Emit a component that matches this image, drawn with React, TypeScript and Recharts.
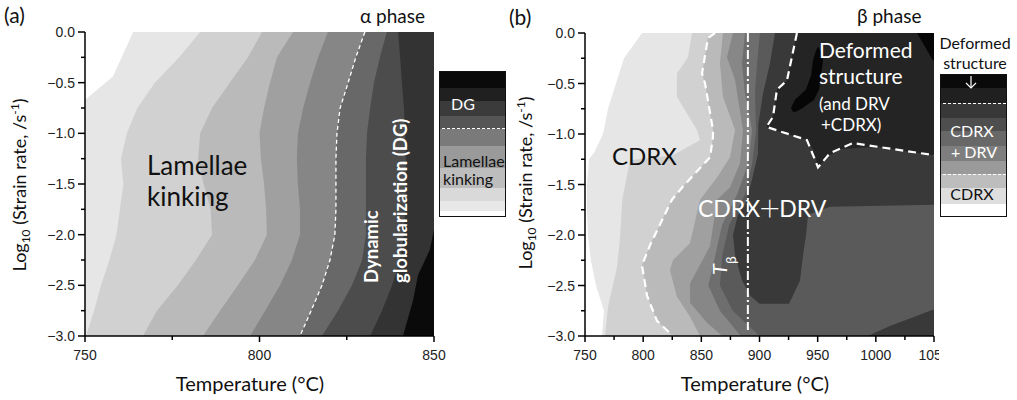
import React from "react";
import { Area, ComposedChart, Line, XAxis, YAxis } from "recharts";

// ---------- panel (a): alpha phase, 750-850 C ----------
const RATES_A = [0, -0.25, -0.5, -0.75, -1, -1.25, -1.5, -1.75, -2, -2.25, -2.5, -2.75, -3];
const A_EDGE_RATES = [0, -0.44, -0.67, -3];
const A_EDGE = [763.8, 758, 750, 750];
const A_B1 = [783, 777, 770, 765, 762, 760.3, 761, 760, 759, 757, 754.6, 752.6, 750.3];
const A_B2 = [800.7, 796.7, 791.5, 786.4, 783, 782.4, 784, 786, 786.4, 781.8, 776.6, 770.6, 766.6];
const A_B3 = [809.6, 805, 803, 801.3, 800, 800.4, 801.3, 801.9, 802.1, 798.7, 793.8, 788.7, 783.8];
const A_B4 = [819.6, 816.8, 814.5, 812.5, 811, 810.7, 811, 811.6, 811.6, 809.3, 805.9, 801.6, 797.3];
const A_DG = [830.2, 827.6, 825.4, 823.1, 822.2, 821.9, 821.9, 821.9, 821.6, 820.2, 817.9, 814.8, 811.6];
const A_B6 = [836.5, 834.5, 832.8, 831.7, 830.8, 830.5, 830.5, 830.5, 830.5, 829.4, 826.5, 822.5, 817.9];
const A_B7 = [839.7, 840.3, 840.8, 841.4, 841.7, 842, 842, 841.7, 841.4, 840.3, 838, 835.1, 831.7];
const A_BLACK_RATES = [-1.95, -2.15, -2.4, -2.65, -3];
const A_BLACK = [850, 848.8, 845.4, 844, 841.1];
const A_COLORS = ["#e6e6e6", "#d1d1d1", "#bababa", "#a0a0a0", "#868686", "#686868", "#4c4c4c", "#333333", "#0a0a0a"];
const A_TICKS_X = [750, 775, 800, 825, 850];

// ---------- panel (b): beta phase, 750-1050 C ----------
const B_W_RATES = [0, -0.25, -0.5, -0.75, -1.0, -1.18, -1.25, -1.5, -1.75, -2.0, -2.25, -2.5, -2.75, -3.0];
const B_W = [799, 783.5, 776.6, 769.8, 765.5, 758, 753.4, 751.7, 751.7, 752.6, 755, 759.5, 766.3, 764.6];
const B_B1_RATES = [0, -0.24, -0.4, -0.63, -0.96, -1.06, -1.21, -1.26, -1.65, -2.05, -2.32, -2.71, -3.0];
const B_B1 = [842, 838.5, 829, 829, 846.3, 848.9, 825.6, 788.7, 782, 780, 777.5, 769.8, 767.2];
const B_DASH_RATES = [0, -0.05, -0.4, -0.5, -0.96, -1.03, -1.23, -1.52, -1.65, -2.1, -2.3, -2.6, -2.85, -3.0];
const B_DASH = [861.8, 855.7, 850.6, 853.2, 860, 860, 857.5, 834.2, 824.8, 805.9, 799, 803.3, 811.9, 825.6];
const B_B3_RATES = [0, -0.3, -0.63, -0.96, -1.23, -1.43, -1.65, -2.08, -2.25, -2.35, -2.61, -2.81, -3.0];
const B_B3 = [868.6, 866, 868.6, 879, 874.6, 863.5, 848.9, 840.3, 825.6, 823, 829, 840.3, 848.9];
const B_B4_RATES = [0, -0.24, -0.46, -0.96, -1.29, -1.53, -1.65, -2.11, -2.48, -2.67, -2.87, -3.0];
const B_B4 = [877.2, 872, 878.9, 885.8, 883.2, 874.6, 863.5, 857.5, 840.3, 840.3, 854.9, 868];
const B_B56_RATES = [0, -0.3, -0.6, -0.96, -1.3, -1.6, -1.9, -2.2, -2.5, -2.75, -3.0];
const B_B5 = [887.5, 885, 887.5, 893.6, 890.1, 880.7, 867.8, 862, 856, 866, 884];
const B_B6 = [900.4, 897.9, 896.1, 897, 893.6, 887.5, 874, 868, 866, 877, 900];
const B_L7_RATES = [0, -0.3, -0.6, -0.9, -1.2, -1.45, -1.6, -1.7, -1.72, -1.8, -2.0, -2.2, -2.45, -2.6, -2.68];
const B_L7_LO = [913.3, 909, 903, 899, 898.6, 893.6, 890, 887.5, 886, 881.5, 877.2, 879, 885, 891.8, 900];
const B_L7_HI = [1050, 1050, 1050, 1050, 1050, 1050, 1050, 1050, 960.6, 941.7, 940, 937.4, 934.8, 928.8, 925.4];
const B_CORNER_RATES = [-2.74, -2.82, -2.9, -3.0];
const B_CORNER = [1049, 1031, 1012, 993];
const B_DEF_RATES = [0, -0.47, -0.56, -0.83, -0.93, -1.06, -1.09, -1.15, -1.24, -1.33];
const B_DEF_LO = [932.2, 923.6, 915, 911.6, 906, 940.8, 942.6, 945.8, 948.5, 950.3];
const B_DEF_HI = [1050, 1050, 1050, 1050, 1050, 1050, 1050, 968.3, 956.9, 950.3];
const B_DEF2_RATES = [-1.09, -1.15, -1.21];
const B_DEF2_LO = [980.4, 1015.2, 1050];
const B_DEFLINE_RATES = [0, -0.47, -0.56, -0.83, -0.93, -1.06, -1.33, -1.19, -1.09, -1.21];
const B_DEFLINE = [932.2, 923.6, 915, 911.6, 906, 940.8, 950.3, 960.6, 980.4, 1050];
const B_BLOB_RATES = [-0.14, -0.17, -0.27, -0.42, -0.56, -0.66, -0.74, -0.78];
const B_BLOB_LO = [950, 948.6, 946, 944.3, 940, 930.5, 927.1, 928.8];
const B_BLOB_HI = [951, 952, 954.6, 952.9, 951.2, 946.9, 937.4, 931.4];
const B_TR_RATES = [0, -0.27];
const B_TR_LO = [1035.4, 1049];
const T_BETA = 890;
const B_COLORS = ["#e6e6e6", "#d1d1d1", "#bababa", "#a0a0a0", "#878787", "#6e6e6e", "#5a5a5a", "#393939", "#242424", "#060606"];
const B_TICKS_X = [750, 775, 800, 825, 850, 875, 900, 925, 950, 975, 1000, 1025, 1050];

const Y_TICKS = [0, -0.25, -0.5, -0.75, -1, -1.25, -1.5, -1.75, -2, -2.25, -2.5, -2.75, -3];

// legends
const LEG_A_COLORS = ["#0a0a0a", "#202020", "#3b3b3b", "#555555", "#7a7a7a", "#9a9a9a", "#bdbdbd", "#d9d9d9", "#e8e8e8", "#ffffff"];
const LEG_A_STOPS = [0, 16, 29, 44, 57, 74, 96, 116, 129, 139, 146];
const LEG_B_COLORS = ["#0a0a0a", "#202020", "#383838", "#4e4e4e", "#686868", "#7e7e7e", "#9a9a9a", "#bdbdbd", "#dedede", "#ffffff"];
const LEG_B_STOPS = [0, 13, 28, 43, 56, 71, 86, 99, 113, 129, 143];

type Row = { r: number; v: [number, number] };
const band = (rates: number[], lo: number[], hi: number[] | number): Row[] =>
  rates.map((r, i) => ({ r, v: [lo[i], Array.isArray(hi) ? hi[i] : hi] }));
const path = (rates: number[], temps: number[]) => rates.map((r, i) => ({ r, t: temps[i] }));

const FONT = "Lato, 'Open Sans', sans-serif";
const TICK_FONT = "'Liberation Sans', Arial, sans-serif";

const fmtRate = (v: number) => (Math.abs(v) < 1e-9 ? "0.0" : "\u2212" + Math.abs(v).toFixed(1));

function YTick(props: any) {
  const { x, y, payload } = props;
  const v = payload.value;
  const major = Math.abs(v * 2 - Math.round(v * 2)) < 1e-6;
  return (
    <g>
      <line x1={x - (major ? 7 : 4)} x2={x} y1={y} y2={y} stroke="#000" strokeWidth={1.5} />
      {major && (
        <text x={x - 10} y={y} dy="0.36em" textAnchor="end" fontFamily={TICK_FONT} fontSize={14} fill="#222">
          {fmtRate(v)}
        </text>
      )}
    </g>
  );
}

function XTick(props: any) {
  const { x, y, payload } = props;
  const v = payload.value;
  const major = v % 50 === 0;
  return (
    <g>
      <line x1={x} x2={x} y1={y} y2={y + (major ? 6 : 4)} stroke="#000" strokeWidth={1.5} />
      {major && (
        <text x={x} y={y + 24} textAnchor="middle" fontFamily={TICK_FONT} fontSize={14} fill="#222">
          {v}
        </text>
      )}
    </g>
  );
}

type BandDef = { data: Row[]; fill: string };
type LineDef = { data: { r: number; t: number }[]; width: number; dash: string };

function ContourPanel({ bands, lines, domain, ticks, top }: { bands: BandDef[]; lines: LineDef[]; domain: [number, number]; ticks: number[]; top: number }) {
  return (
    <ComposedChart width={450} height={400} layout="vertical" margin={{ top, right: 16, bottom: 34, left: 35 }}>
      {bands.map((b, i) => (
        <Area
          key={"a" + i}
          data={b.data}
          dataKey="v"
          type="linear"
          fill={b.fill}
          fillOpacity={1}
          stroke="none"
          dot={false}
          activeDot={false}
          isAnimationActive={false}
        />
      ))}
      {lines.map((l, i) => (
        <Line
          key={"l" + i}
          data={l.data}
          dataKey="t"
          type="linear"
          stroke="#fff"
          strokeWidth={l.width}
          strokeDasharray={l.dash}
          dot={false}
          activeDot={false}
          isAnimationActive={false}
        />
      ))}
      <XAxis
        type="number"
        domain={domain}
        allowDataOverflow
        ticks={ticks}
        interval={0}
        height={30}
        tickSize={0}
        tickMargin={0}
        tickLine={false}
        tick={<XTick />}
        axisLine={{ stroke: "#000", strokeWidth: 1.5 }}
      />
      <YAxis
        type="number"
        dataKey="r"
        domain={[-3, 0]}
        reversed
        allowDataOverflow
        ticks={Y_TICKS}
        interval={0}
        width={50}
        tickSize={0}
        tickMargin={0}
        tickLine={false}
        tick={<YTick />}
        axisLine={{ stroke: "#000", strokeWidth: 1.5 }}
      />
    </ComposedChart>
  );
}

function Legend({ left, top, colors, stops, dashes }: { left: number; top: number; colors: string[]; stops: number[]; dashes: number[] }) {
  return (
    <div
      style={{
        position: "absolute",
        left,
        top,
        width: 67,
        height: stops[stops.length - 1],
        border: "1.5px solid #111",
        boxSizing: "border-box",
        overflow: "hidden",
      }}
    >
      {colors.map((c, i) => (
        <div key={i} style={{ position: "absolute", left: 0, right: 0, top: stops[i], height: stops[i + 1] - stops[i], background: c }} />
      ))}
      {dashes.map((d, i) => (
        <div key={"d" + i} style={{ position: "absolute", left: 2, right: 0, top: d, borderTop: "1.5px dashed #fff" }} />
      ))}
    </div>
  );
}

export default function App() {
  const bandsA: BandDef[] = [
    { data: band(A_EDGE_RATES, A_EDGE, 850), fill: A_COLORS[0] },
    { data: band(RATES_A, A_B1, 850), fill: A_COLORS[1] },
    { data: band(RATES_A, A_B2, 850), fill: A_COLORS[2] },
    { data: band(RATES_A, A_B3, 850), fill: A_COLORS[3] },
    { data: band(RATES_A, A_B4, 850), fill: A_COLORS[4] },
    { data: band(RATES_A, A_DG, 850), fill: A_COLORS[5] },
    { data: band(RATES_A, A_B6, 850), fill: A_COLORS[6] },
    { data: band(RATES_A, A_B7, 850), fill: A_COLORS[7] },
    { data: band(A_BLACK_RATES, A_BLACK, 850), fill: A_COLORS[8] },
  ];
  const linesA: LineDef[] = [{ data: path(RATES_A, A_DG), width: 1.3, dash: "4 3" }];

  const bandsB: BandDef[] = [
    { data: band(B_W_RATES, B_W, 1050), fill: B_COLORS[0] },
    { data: band(B_B1_RATES, B_B1, 1050), fill: B_COLORS[1] },
    { data: band(B_DASH_RATES, B_DASH, 1050), fill: B_COLORS[2] },
    { data: band(B_B3_RATES, B_B3, 1050), fill: B_COLORS[3] },
    { data: band(B_B4_RATES, B_B4, 1050), fill: B_COLORS[4] },
    { data: band(B_B56_RATES, B_B5, 1050), fill: B_COLORS[5] },
    { data: band(B_B56_RATES, B_B6, 1050), fill: B_COLORS[6] },
    { data: band(B_L7_RATES, B_L7_LO, B_L7_HI), fill: B_COLORS[7] },
    { data: band(B_CORNER_RATES, B_CORNER, 1050), fill: B_COLORS[7] },
    { data: band(B_DEF_RATES, B_DEF_LO, B_DEF_HI), fill: B_COLORS[8] },
    { data: band(B_DEF2_RATES, B_DEF2_LO, 1050), fill: B_COLORS[8] },
    { data: band(B_BLOB_RATES, B_BLOB_LO, B_BLOB_HI), fill: B_COLORS[9] },
    { data: band(B_TR_RATES, B_TR_LO, 1050), fill: B_COLORS[9] },
  ];
  const linesB: LineDef[] = [
    { data: path(B_DASH_RATES, B_DASH), width: 2.2, dash: "8 5" },
    { data: path(B_DEFLINE_RATES, B_DEFLINE), width: 2.2, dash: "8 5" },
    { data: path([0, -2.94], [T_BETA, T_BETA]), width: 2, dash: "9 3 2 3" },
  ];

  return (
    <div style={{ position: "absolute", left: 0, top: 0, width: 1017, height: 400, background: "#fff", overflow: "hidden" }}>
      <div style={{ position: "absolute", left: 0, top: 0 }}>
        <ContourPanel bands={bandsA} lines={linesA} domain={[750, 850]} ticks={A_TICKS_X} top={32} />
      </div>
      <div style={{ position: "absolute", left: 500, top: 0 }}>
        <ContourPanel bands={bandsB} lines={linesB} domain={[750, 1050]} ticks={B_TICKS_X} top={33} />
      </div>
      {/* the last tick label is cut off in the original figure */}
      <div style={{ position: "absolute", left: 939, top: 342, width: 30, height: 26, background: "#fff" }} />

      <Legend left={439} top={71} colors={LEG_A_COLORS} stops={LEG_A_STOPS} dashes={[56]} />
      <Legend left={940} top={74} colors={LEG_B_COLORS} stops={LEG_B_STOPS} dashes={[28, 99]} />

      <svg width={1017} height={400} style={{ position: "absolute", left: 0, top: 0, pointerEvents: "none" }} fontFamily={FONT}>
        {/* panel labels */}
        <text x={4} y={23} fontSize={21} fill="#111">(a)</text>
        <text x={509} y={25} fontSize={21} fill="#111">(b)</text>
        <text x={360} y={23} fontSize={19} fill="#111">α phase</text>
        <text x={857} y={23} fontSize={19} fill="#111">β phase</text>

        {/* axis titles */}
        {[26, 532].map((x, i) => (
          <text key={"yl" + i} transform={`translate(${x},${i ? 183 : 185}) rotate(-90)`} textAnchor="middle" fontSize={18} fill="#111">
            Log<tspan fontSize={12} dy={4}>10</tspan>
            <tspan dy={-4}> (Strain rate, /s</tspan>
            <tspan fontSize={12} dy={-7}>-1</tspan>
            <tspan dy={7}>)</tspan>
          </text>
        ))}
        <text x={250} y={391} textAnchor="middle" fontSize={20} fill="#111">Temperature (°C)</text>
        <text x={755} y={391} textAnchor="middle" fontSize={20} fill="#111">Temperature (°C)</text>

        {/* panel (a) annotations */}
        <text x={147} y={175} fontSize={26} fill="#111">Lamellae</text>
        <text x={147} y={206} fontSize={26} fill="#111">kinking</text>
        <text transform="translate(378,283) rotate(-90)" fontSize={18.5} fontWeight={700} fill="#fff">Dynamic</text>
        <text transform="translate(407,283) rotate(-90)" fontSize={18.5} fontWeight={700} fill="#fff">globularization (DG)</text>

        {/* panel (b) annotations */}
        <text x={612} y={165} fontSize={24} fill="#111">CDRX</text>
        <text x={698} y={217} fontSize={23} fill="#fff">
          CDRX<tspan fontFamily="'Noto Sans CJK SC'" fontWeight={300} dx={-2}>＋</tspan><tspan dx={-2}>DRV</tspan>
        </text>
        <text transform="translate(727,275) rotate(-90)" fontSize={20} fill="#fff" fontStyle="italic">
          T<tspan fontStyle="normal" fontSize={14} dy={9}>β</tspan>
        </text>
        <text x={819} y={58} fontSize={21} fill="#fff">Deformed</text>
        <text x={819} y={84} fontSize={21} fill="#fff">structure</text>
        <text x={819} y={110} fontSize={17} fill="#fff">(and DRV</text>
        <text x={821} y={131} fontSize={17} fill="#fff">+CDRX)</text>

        {/* legend (a) texts */}
        <text x={463} y={110} textAnchor="middle" fontSize={16} fill="#fff">DG</text>
        <text x={443} y={167} fontSize={16} fill="#111">Lamellae</text>
        <text x={443} y={185} fontSize={16} fill="#111">kinking</text>

        {/* legend (b) texts */}
        <text x={975} y={49} textAnchor="middle" fontSize={16} fill="#111">Deformed</text>
        <text x={975} y={69} textAnchor="middle" fontSize={16} fill="#111">structure</text>
        <line x1={971} y1={76} x2={971} y2={88} stroke="#fff" strokeWidth={1.2} />
        <polyline points="966,83 971,88 976,83" fill="none" stroke="#fff" strokeWidth={1.2} />
        <text x={972} y={137} textAnchor="middle" fontSize={16} fill="#fff">CDRX</text>
        <text x={974} y={158} textAnchor="middle" fontSize={16} fill="#fff">+ DRV</text>
        <text x={972} y={200} textAnchor="middle" fontSize={16} fill="#111">CDRX</text>
      </svg>
    </div>
  );
}
